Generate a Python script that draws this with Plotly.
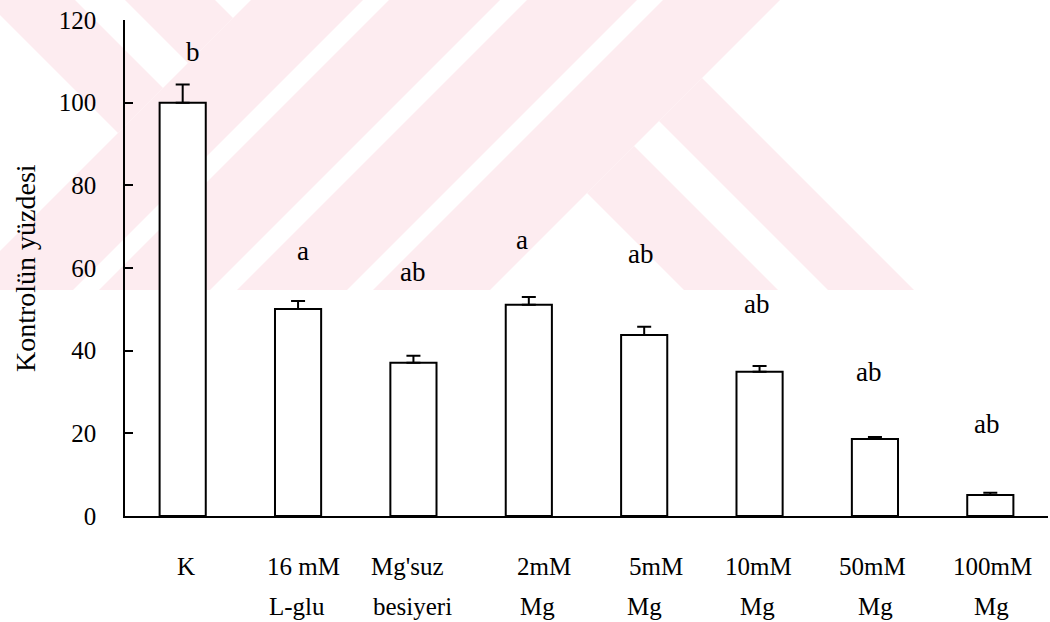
import plotly.graph_objects as go

# ---------------- data ----------------
categories = ["K", "16 mM L-glu", "Mg'suz besiyeri", "2mM Mg", "5mM Mg", "10mM Mg", "50mM Mg", "100mM Mg"]
label_line1 = ["K", "16 mM", "Mg'suz", "2mM", "5mM", "10mM", "50mM", "100mM"]
label_line2 = ["", "L-glu", "besiyeri", "Mg", "Mg", "Mg", "Mg", "Mg"]
values = [100.0, 50.1, 37.1, 51.1, 43.8, 34.9, 18.6, 5.1]
errors = [4.4, 1.9, 1.7, 1.9, 2.0, 1.4, 0.5, 0.5]
letters = ["b", "a", "ab", "a", "ab", "ab", "ab", "ab"]
letter_heights = [109.7, 61.5, 56.4, 64.2, 60.8, 48.7, 32.2, 19.6]
y_ticks = [0, 20, 40, 60, 80, 100, 120]

# ---------------- layout constants ----------------
W, H = 1050, 622
L, R, T, B = 125, 2, 20, 106
PW, PH = W - L - R, H - T - B
FONT = "Liberation Serif, Times New Roman, serif"
PINK = "#fdecf0"

letter_shift = [10.5, 5, -0.5, -7, -3.5, -3, -6.5, -4]
line1_shift = [3.5, 5, -5.5, 15, 11.5, -1, -2.5, 2]
line2_shift = [0, -1, -0.5, 9, 0.5, -2, 0.5, 1]


def px2paper(px, py):
    return (px - L) / PW, (H - B - py) / PH


def clip(poly, a, b, c):
    """keep points where a*x + b*y <= c"""
    out = []
    n = len(poly)
    for i in range(n):
        p, q = poly[i], poly[(i + 1) % n]
        fp = a * p[0] + b * p[1] - c
        fq = a * q[0] + b * q[1] - c
        if fp <= 0:
            out.append(p)
        if (fp < 0 < fq) or (fq < 0 < fp):
            t = fp / (fp - fq)
            out.append((p[0] + t * (q[0] - p[0]), p[1] + t * (q[1] - p[1])))
    return out


def stroke(halfplanes):
    poly = [(0, 0), (W, 0), (W, 290), (0, 290)]
    for hp in halfplanes:
        poly = clip(poly, *hp)
        if not poly:
            break
    return poly


# watermark strokes (pixel coordinates, 45 degree bands)
wm = []
for lo, hi in [(251, 363), (389, 500), (527, 637), (663, 780)]:
    wm.append(stroke([(-1, -1, -lo), (1, 1, hi)]))
for lo, hi in [(394, 488), (538, 624)]:
    wm.append(stroke([(-1, 1, -lo), (1, -1, hi), (-1, -1, -780)]))
for lo, hi in [(125, 215), (-15, 75)]:
    wm.append(stroke([(-1, 1, -lo), (1, -1, hi), (1, 1, 251)]))

shapes = []
for poly in wm:
    if len(poly) < 3:
        continue
    pts = [px2paper(x, y) for x, y in poly]
    path = "M " + " L ".join(f"{x:.5f},{y:.5f}" for x, y in pts) + " Z"
    shapes.append(dict(type="path", path=path, xref="paper", yref="paper",
                       fillcolor=PINK, line=dict(width=0), layer="below"))

fig = go.Figure()
fig.add_trace(go.Bar(
    x=categories, y=values, width=0.4,
    marker=dict(color="white", line=dict(color="black", width=2)),
    error_y=dict(type="data", symmetric=False, array=errors,
                 arrayminus=[0] * len(errors), color="black", thickness=2, width=7),
    hoverinfo="skip",
))

annotations = []
for i, (lt, h) in enumerate(zip(letters, letter_heights)):
    annotations.append(dict(x=categories[i], y=h, xref="x", yref="y", text=lt,
                            showarrow=False, yanchor="bottom", yshift=-6,
                            xshift=letter_shift[i],
                            font=dict(family=FONT, size=27, color="black")))
y1 = (H - B - 566) / PH
y2 = (H - B - 606) / PH
for i, c in enumerate(categories):
    annotations.append(dict(x=c, y=y1, xref="x", yref="paper", text=label_line1[i],
                            showarrow=False, yanchor="middle", xshift=line1_shift[i],
                            font=dict(family=FONT, size=25, color="black")))
    if label_line2[i]:
        annotations.append(dict(x=c, y=y2, xref="x", yref="paper", text=label_line2[i],
                                showarrow=False, yanchor="middle", xshift=line2_shift[i],
                                font=dict(family=FONT, size=25, color="black")))
tx, ty = px2paper(25, 268)
annotations.append(dict(x=tx, y=ty, xref="paper", yref="paper", text="Kontrolün yüzdesi",
                        textangle=-90, showarrow=False, xanchor="center", yanchor="middle",
                        font=dict(family=FONT, size=28, color="black")))

fig.update_layout(
    width=W, height=H, autosize=False,
    margin=dict(l=L, r=R, t=T, b=B, pad=0),
    paper_bgcolor="white", plot_bgcolor="rgba(0,0,0,0)",
    showlegend=False, bargap=0.6,
    shapes=shapes, annotations=annotations,
    xaxis=dict(type="category", range=[-0.5, 7.5], showline=True, linecolor="black",
               linewidth=1.5, showticklabels=False, ticks="", showgrid=False, zeroline=False,
               fixedrange=True),
    yaxis=dict(range=[0, 120], showline=True, linecolor="black", linewidth=1.5,
               ticks="inside", ticklen=8, tickwidth=1.5, tickcolor="black",
               tickvals=y_ticks, ticktext=[str(v) for v in y_ticks],
               tickfont=dict(family=FONT, size=25, color="black"),
               ticklabelstandoff=22, showgrid=False, zeroline=False, fixedrange=True),
)

fig.write_html("out.html")
